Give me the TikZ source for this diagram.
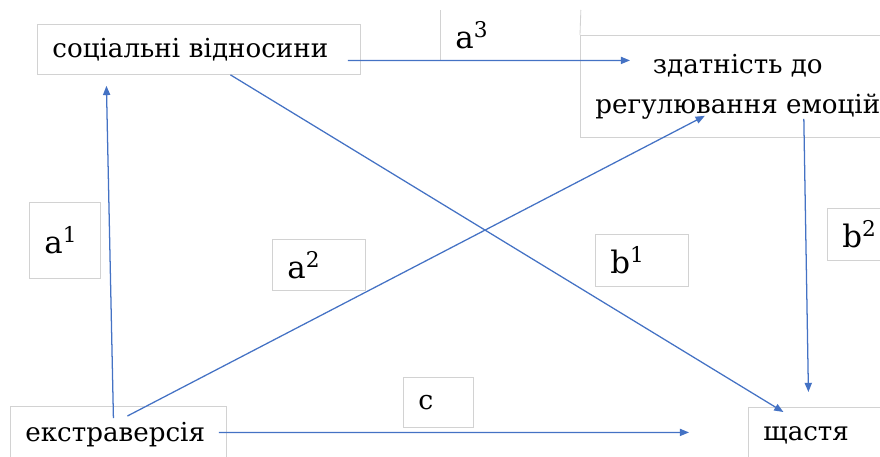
\documentclass[tikz,border=0pt]{standalone}
\usepackage{fontspec}
\setmainfont{DejaVu Serif}
\usepackage{tikz}
\usetikzlibrary{arrows.meta}
\definecolor{dgblue}{RGB}{68,114,196}
\definecolor{dggray}{RGB}{210,210,210}
\tikzset{
  dgbox/.style={draw=dggray, line width=0.6pt, fill=white, anchor=north west,
    align=left, inner xsep=3.75mm, inner ysep=0pt,
    font=\rmfamily\fontsize{18.6}{28.5}\selectfont},
  dglabel/.style={dgbox, font=\rmfamily\fontsize{22}{30}\selectfont},
  dgarrow/.style={-{Triangle[length=2.3mm,width=1.8mm]}, line width=0.9pt, draw=dgblue}
}

\begin{document}
\begin{tikzpicture}
  \useasboundingbox (0,0) rectangle (22,-11.4);
  % main boxes
  \node[dgbox, text width=7.325cm, minimum height=1.25cm] (mS) at (0.925,-0.6) {соціальні відносини};
  \node[dgbox, align=center, minimum width=7.85cm, minimum height=2.55cm] (mR) at (14.5,-0.875) {здатність до\\регулювання емоцій};
  \node[dgbox, text width=4.65cm, minimum height=1.4cm] (mE) at (0.25,-10.15) {екстраверсія};
  \node[dgbox, text width=3cm, minimum height=1.4cm] (mH) at (18.7,-10.175) {щастя};
  % path labels
  \node[dglabel, text width=1.025cm, minimum height=1.9cm] (lA1) at (0.725,-5.05) {a\textsuperscript{1}};
  \node[dglabel, text width=1.575cm, minimum height=1.275cm] (lA2) at (6.8,-5.975) {a\textsuperscript{2}};
  \node[dglabel, draw=none, fill=none, text width=2.75cm, minimum height=1.25cm] (lA3) at (11.0,-0.25) {a\textsuperscript{3}};
  \draw[dggray, line width=0.6pt] (lA3.north west) -- (lA3.south west);
  \draw[dggray, line width=0.6pt] (lA3.north east) -- (mR.north west);
  \node[dglabel, text width=1.575cm, minimum height=1.3cm] (lB1) at (14.875,-5.85) {b\textsuperscript{1}};
  \node[dglabel, text width=1.25cm, minimum height=1.3cm] (lB2) at (20.675,-5.2) {b\textsuperscript{2}};
  \node[dglabel, font=\rmfamily\fontsize{19}{28}\selectfont, text width=1cm, minimum height=1.25cm] (lC) at (10.075,-9.425) {c};
  % arrows
  \draw[dgarrow] ([xshift=-1.25mm,yshift=-3mm]mE.north) -- ([xshift=-23.125mm,yshift=-2.75mm]mS.south);
  \draw[dgarrow] ([xshift=2.25mm,yshift=-2.5mm]mE.north) -- ([xshift=-8.25mm,yshift=5.5mm]mR.south);
  \draw[dgarrow] ([xshift=-2mm,yshift=0.5mm]mE.east) -- ([xshift=-14.75mm,yshift=0.75mm]mH.west);
  \draw[dgarrow] ([xshift=-3.25mm,yshift=-2.75mm]mS.east) -- ([xshift=12.5mm,yshift=6.5mm]mR.west);
  \draw[dgarrow] ([xshift=7.875mm]mS.south) -- ([xshift=-10mm,yshift=-1.25mm]mH.north);
  \draw[dgarrow] ([xshift=16.5mm,yshift=4.75mm]mR.south) -- ([xshift=-3.75mm,yshift=3.75mm]mH.north);
\end{tikzpicture}
\end{document}
